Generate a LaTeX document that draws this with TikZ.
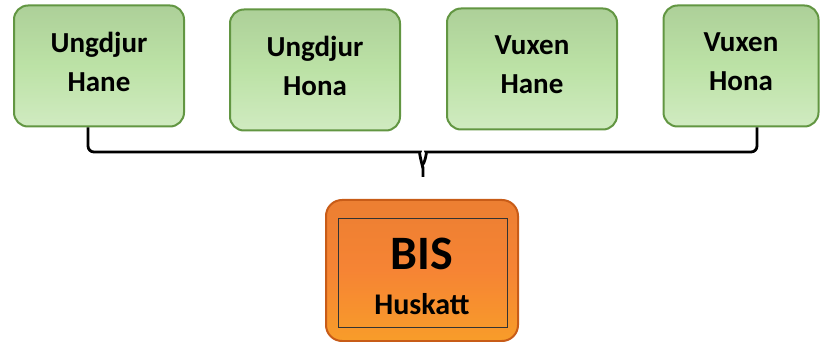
\documentclass[tikz,border=0pt]{standalone}
\usepackage{fontspec}
\setmainfont{Carlito}
\usepackage{tikz}
\definecolor{leafgreen}{RGB}{188, 226, 166}
\definecolor{leafdark}{RGB}{98, 150, 66}
\definecolor{carrot}{RGB}{246, 132, 52}
\definecolor{carrotdark}{RGB}{200, 92, 24}
\newcommand{\lift}{\rule[-9pt]{0pt}{0pt}}
\tikzset{
    animal/.style={rectangle, rounded corners=14pt, draw=leafdark, line width=2pt,
        top color=leafgreen!92!black, bottom color=leafgreen!70!white, middle color=leafgreen,
        minimum width=170pt, minimum height=121pt, inner sep=0pt, align=center,
        font=\fontsize{29}{39}\selectfont\bfseries},
    breed/.style={rectangle, rounded corners=16pt, draw=carrotdark, line width=2pt,
        top color=carrot!96!black, bottom color=carrot!80!yellow, middle color=carrot,
        minimum width=192pt, minimum height=141pt, inner sep=0pt, align=center}
}

\begin{document}
\begin{tikzpicture}[x=1pt, y=-1pt]
            \useasboundingbox (0,0) rectangle (820,342);
            % Animal groups
            \node[animal] (ungHane) at ( 99.0, 66.0) {Ungdjur\\Hane\lift};
            \node[animal] (ungHona) at (315.0, 70.0) {Ungdjur\\Hona\lift};
            \node[animal] (vuxHane) at (532.0, 69.0) {Vuxen\\Hane\lift};
            \node[animal, minimum width=155pt] (vuxHona) at (741.0, 66.0) {Vuxen\\Hona\lift};
            % Brace
            \coordinate (tip) at (423.0, 177.0);
            \draw[line width=2.8pt, rounded corners=6pt]
                ([xshift=-11pt]ungHane.south) |- (414,152) to[out=0, in=-90, looseness=0.8] (tip |- 0,163)
                -- (tip);
            \draw[line width=2.8pt, rounded corners=6pt]
                ([xshift=16pt]vuxHona.south) |- (432,152) to[out=180, in=-90, looseness=0.8] (tip |- 0,163);
            % Breed
            \node[breed] (bis) at (422.0, 270.5) {};
            \draw[line width=0.8pt, color=black!80] (338, 218) rectangle (507, 327);
            \node[font=\fontsize{48}{48}\selectfont\bfseries] (bisTitle) at (422.0, 254.0) {BIS};
            \node[font=\fontsize{30}{30}\selectfont\bfseries] (bisSub) at (422.0, 304.0) {Huskatt};
        \end{tikzpicture}
\end{document}
